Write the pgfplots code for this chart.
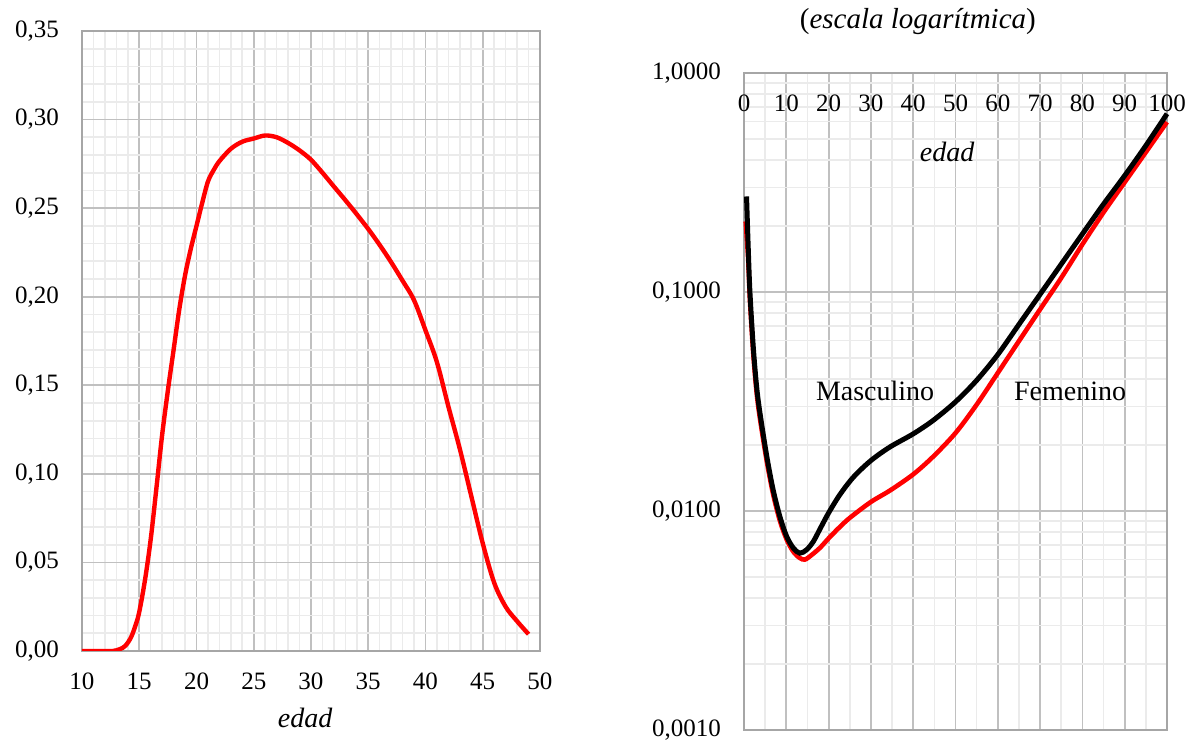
\documentclass[border=0pt]{standalone}
\usepackage{pgfplots}
\pgfplotsset{compat=1.18}
\usepackage{fontspec}
\setmainfont{Liberation Serif}
\definecolor{framegray}{HTML}{A6A6A6}
\definecolor{majgray}{HTML}{C0C0C0}
\definecolor{mingray}{HTML}{EBEBEB}
\pgfplotsset{
  myaxis/.style={
    scale only axis,
    anchor=south west,
    axis line style={framegray, line width=1pt},
    grid=both,
    major grid style={majgray, line width=0.9pt},
    minor grid style={mingray, line width=0.8pt},
    major tick length=0pt, minor tick length=0pt,
    tick style={draw=none},
    tick label style={font=\fontsize{12.5}{15}\selectfont},
    label style={font=\fontsize{14}{16}\selectfont\itshape},
    yticklabel style={xshift=-8pt},
  }
}
\begin{document}
\begin{tikzpicture}
\useasboundingbox (0,0) rectangle (595pt,371pt);
% left chart
\begin{axis}[myaxis,
  at={(41pt,45.5pt)}, width=229pt, height=310pt,
  xmin=10, xmax=50, ymin=0, ymax=0.35,
  xtick={10,15,20,25,30,35,40,45,50},
  xticklabels={10,15,20,25,30,35,40,45,50},
  ytick={0,0.05,0.1,0.15,0.2,0.25,0.3,0.35},
  yticklabels={{0,00},{0,05},{0,10},{0,15},{0,20},{0,25},{0,30},{0,35}},
  minor x tick num=4, minor y tick num=4,
  xticklabel style={yshift=-7.5pt},
  xlabel={edad},
  xlabel style={at={(axis description cs:0.487,-0.108)}, anchor=center},
]
\addplot[red, line width=2.2pt, smooth, tension=0.55] coordinates {
(10,0) (11,0) (12,0) (12.7,0) (13.3,0.001) (13.8,0.003) (14.3,0.008) (14.7,0.015)
(15,0.022) (15.5,0.040) (16,0.063) (16.5,0.092) (17,0.122) (17.5,0.147) (18,0.170)
(18.5,0.193) (19,0.212) (19.5,0.227) (20,0.240) (20.5,0.253) (21,0.265) (21.5,0.2715)
(22,0.2765) (23,0.2835) (24,0.2875) (25,0.2893) (26,0.2910) (27,0.2900) (28,0.2868)
(29,0.2826) (30,0.2773) (31,0.2700) (32,0.2622) (33,0.2545) (34,0.2465) (35,0.2382)
(36,0.2292) (37,0.2195) (38,0.2090) (39,0.1980) (40,0.1810) (41,0.1630) (42,0.1380)
(43,0.1140) (44,0.0874) (45,0.0608) (46,0.0385) (47,0.0250) (48,0.0168) (49,0.0095)
};
\end{axis}
% right chart
\begin{axis}[myaxis, ymode=log, clip=false,
  at={(372pt,6pt)}, width=211.5pt, height=328.5pt,
  xmin=0, xmax=100, ymin=0.001, ymax=1,
  xtick={0,10,20,30,40,50,60,70,80,90,100},
  xticklabels={0,10,20,30,40,50,60,70,80,90,100},
  minor x tick num=1,
  ytick={0.001,0.01,0.1,1},
  yticklabels={{0,0010},{0,0100},{0,1000},{1,0000}},
  minor ytick={0.002,0.003,0.004,0.005,0.006,0.007,0.008,0.009,
               0.02,0.03,0.04,0.05,0.06,0.07,0.08,0.09,
               0.2,0.3,0.4,0.5,0.6,0.7,0.8,0.9},
  xticklabel pos=upper,
  xticklabel style={anchor=north, yshift=-7.3pt},
  xlabel={edad},
  xlabel style={at={(axis description cs:0.48,0.88)}, anchor=center},
]
\addplot[red, line width=2.3pt, smooth, tension=0.5] coordinates {
(0.4,0.21) (1.0,0.14) (1.4,0.092) (2.2,0.052) (3.0,0.0345) (3.8,0.0262) (5.4,0.0168)
(6.9,0.0119) (8.5,0.0090) (10.1,0.0074) (11.7,0.0065) (13.2,0.0061) (14.4,0.0060)
(16,0.0063) (18,0.0068) (20,0.0075) (22.5,0.0084) (25,0.0093) (30,0.0110)
(34.5,0.0124) (40,0.0147) (44.7,0.0177) (50,0.0227) (55,0.0306) (60,0.0427)
(65,0.0597) (70,0.0833) (75,0.116) (80,0.165) (85,0.231) (90,0.317) (95,0.435) (100,0.597)
};
\addplot[black, line width=2.5pt, smooth, tension=0.5] coordinates {
(0.6,0.273) (1.0,0.159) (1.4,0.1) (2.2,0.0558) (3.0,0.0367) (3.8,0.0278) (5.4,0.0177)
(6.9,0.01246) (8.5,0.0094) (10.1,0.00764) (11.7,0.00676) (13.2,0.00642) (14.8,0.00665)
(16.4,0.00726) (18,0.0083) (20,0.0098) (22.7,0.0119) (25.9,0.0143) (30,0.0170)
(34.5,0.0196) (40,0.0225) (44.7,0.0259) (50,0.0315) (55,0.0395) (60,0.0518)
(65,0.0711) (70,0.0976) (75,0.134) (80,0.184) (85,0.252) (90,0.340) (95,0.466) (100,0.651)
};
\node[font=\fontsize{14}{16}\selectfont] at (axis cs:31,0.0353) {Masculino};
\node[font=\fontsize{14}{16}\selectfont] at (axis cs:77.1,0.0353) {Femenino};
\node[font=\fontsize{14.5}{17}\selectfont] at (axis description cs:0.411,1.078) {(\textit{escala logarítmica})};
\end{axis}
\end{tikzpicture}
\end{document}
